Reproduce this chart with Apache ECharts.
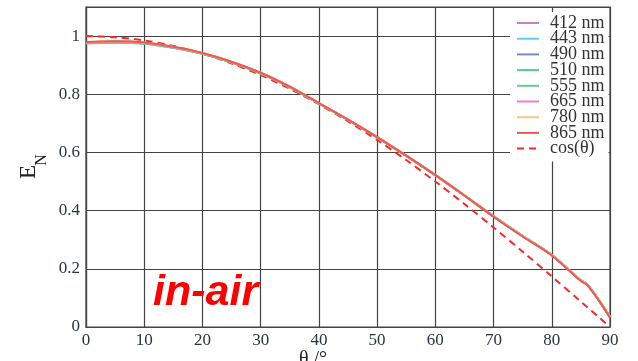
<!DOCTYPE html>
<html>
<head>
<meta charset="utf-8">
<script src="https://cdn.jsdelivr.net/npm/echarts@6/dist/echarts.min.js"></script>
<style>
  html, body { margin: 0; padding: 0; background: #fff; }
  #chart { width: 638px; height: 361px; }
</style>
</head>
<body>
<div id="chart"></div>
<script>
const angles = [0, 5, 10, 15, 20, 25, 30, 35, 40, 45, 50, 55, 60, 65, 70, 75, 80, 85, 86, 88, 90]

const e412 = [0.979, 0.981, 0.977, 0.962, 0.941, 0.911, 0.873, 0.825, 0.769, 0.712, 0.652, 0.588, 0.521, 0.451, 0.379, 0.311, 0.246, 0.159, 0.147, 0.094, 0.033]
const e443 = [0.978, 0.980, 0.976, 0.961, 0.940, 0.910, 0.872, 0.824, 0.769, 0.712, 0.652, 0.588, 0.522, 0.452, 0.380, 0.312, 0.247, 0.160, 0.148, 0.095, 0.034]
const e490 = [0.977, 0.979, 0.975, 0.961, 0.940, 0.910, 0.872, 0.825, 0.769, 0.713, 0.653, 0.589, 0.523, 0.453, 0.381, 0.313, 0.248, 0.161, 0.149, 0.096, 0.035]
const e510 = [0.975, 0.977, 0.974, 0.960, 0.939, 0.909, 0.871, 0.824, 0.768, 0.712, 0.652, 0.588, 0.522, 0.452, 0.380, 0.312, 0.247, 0.160, 0.148, 0.095, 0.034]
const e555 = [0.975, 0.977, 0.974, 0.960, 0.939, 0.910, 0.872, 0.825, 0.769, 0.713, 0.653, 0.589, 0.523, 0.453, 0.381, 0.313, 0.248, 0.161, 0.149, 0.096, 0.035]
const e665 = [0.979, 0.981, 0.977, 0.962, 0.941, 0.911, 0.873, 0.826, 0.770, 0.713, 0.653, 0.589, 0.522, 0.452, 0.380, 0.312, 0.247, 0.160, 0.148, 0.095, 0.034]
const e780 = [0.980, 0.982, 0.978, 0.963, 0.942, 0.912, 0.874, 0.826, 0.770, 0.713, 0.653, 0.589, 0.522, 0.452, 0.380, 0.312, 0.247, 0.160, 0.148, 0.095, 0.034]
const e865 = [0.980, 0.982, 0.978, 0.963, 0.942, 0.912, 0.874, 0.826, 0.770, 0.713, 0.653, 0.589, 0.522, 0.452, 0.379, 0.311, 0.246, 0.158, 0.146, 0.093, 0.032]
const cosTheta = [1, 0.996, 0.985, 0.966, 0.940, 0.906, 0.866, 0.819, 0.766, 0.707, 0.643, 0.574, 0.500, 0.423, 0.342, 0.259, 0.174, 0.087, 0.070, 0.035, 0]

const xTicks = [0, 10, 20, 30, 40, 50, 60, 70, 80, 90]
const yTicks = [0, 0.2, 0.4, 0.6, 0.8, 1]

const wavelengths = [
  { name: '412 nm', values: e412, color: '#c480c6' },
  { name: '443 nm', values: e443, color: '#5dcdf0' },
  { name: '490 nm', values: e490, color: '#8086c6' },
  { name: '510 nm', values: e510, color: '#58c994' },
  { name: '555 nm', values: e555, color: '#6acb8e' },
  { name: '665 nm', values: e665, color: '#f27cc0' },
  { name: '780 nm', values: e780, color: '#f9c87a' },
  { name: '865 nm', values: e865, color: '#f0574f' },
]

const serif = "'Liberation Serif', 'DejaVu Serif', serif"
const chart = echarts.init(document.getElementById('chart'))

const pairs = (vals) => angles.map((a, i) => [a, vals[i]])

const series = wavelengths.map((w) => ({
  name: w.name,
  type: 'line',
  data: pairs(w.values),
  symbol: 'none',
  smooth: 0.3,
  color: w.color,
  lineStyle: { color: w.color, width: 2 },
  z: 3,
}))
series.push({
  name: 'cos(θ)',
  type: 'line',
  data: pairs(cosTheta),
  symbol: 'none',
  smooth: 0.3,
  color: '#f5282a',
  lineStyle: { color: '#f5282a', width: 2, type: [7, 5] },
  z: 2,
})

chart.setOption({
  animation: false,
  backgroundColor: '#fff',
  grid: {
    left: 86, right: 28, top: 7, bottom: 34,
    show: true, borderColor: '#444', borderWidth: 1.2,
  },
  legend: {
    orient: 'vertical',
    left: 510,
    top: 12,
    padding: [2, 4, 4, 6],
    backgroundColor: '#fff',
    itemWidth: 22,
    itemHeight: 10,
    itemGap: -2.3,
    itemStyle: { opacity: 0 },
    textStyle: { fontFamily: serif, fontSize: 18, color: '#333', padding: [0, 0, 0, 6] },
    data: wavelengths.map((w) => w.name).concat(['cos(θ)']),
    z: 10,
  },
  xAxis: {
    type: 'value',
    min: 0,
    max: 90,
    interval: 10,
    axisLine: { lineStyle: { color: '#444', width: 1.2 } },
    axisTick: { show: false },
    splitLine: { lineStyle: { color: '#444', width: 1.2 } },
    axisLabel: {
      fontFamily: serif, fontSize: 17, color: '#2c3542', margin: 5,
      formatter: (v) => (xTicks.includes(v) ? String(v) : ''),
    },
  },
  yAxis: {
    type: 'value',
    min: 0,
    max: 1.1,
    interval: 0.2,
    axisLine: { lineStyle: { color: '#444', width: 1.2 } },
    axisTick: { show: false },
    splitLine: { lineStyle: { color: '#444', width: 1.2 } },
    axisLabel: {
      fontFamily: serif, fontSize: 17, color: '#2c3542', margin: 6,
      formatter: (v) => {
        const t = yTicks.find((k) => Math.abs(k - v) < 1e-6)
        return t === undefined ? '' : String(t)
      },
    },
  },
  graphic: [
    {
      type: 'text', x: 29, y: 172, rotation: Math.PI / 2,
      style: { text: 'E', font: "23px 'Liberation Serif', serif", fill: '#222', textAlign: 'center', textVerticalAlign: 'middle' },
    },
    {
      type: 'text', x: 42, y: 160, rotation: Math.PI / 2,
      style: { text: 'N', font: "16px 'Liberation Serif', serif", fill: '#222', textAlign: 'center', textVerticalAlign: 'middle' },
    },
    {
      type: 'text', x: 313, y: 350,
      style: { text: 'θ /°', font: "20px 'Liberation Serif', serif", fill: '#222', textAlign: 'center', textVerticalAlign: 'top' },
    },
    {
      type: 'text', x: 153, y: 315, z: 20,
      style: { text: 'in-air', font: "italic bold 43px 'Liberation Sans', Arial, sans-serif", fill: '#ff0000', textAlign: 'left', textVerticalAlign: 'bottom' },
    },
  ],
  series,
})
</script>
</body>
</html>
